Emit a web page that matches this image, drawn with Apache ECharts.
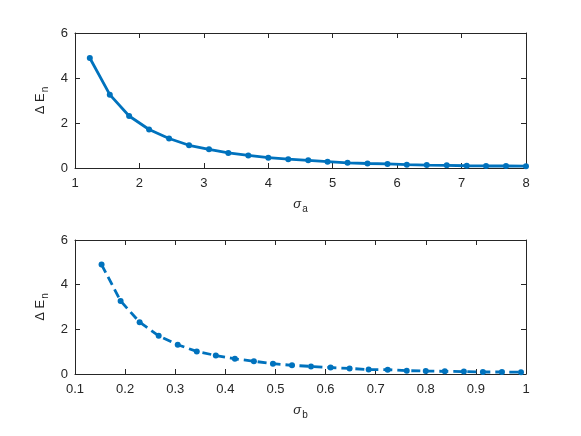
<!DOCTYPE html>
<html>
<head>
<meta charset="utf-8">
<script src="https://cdn.jsdelivr.net/npm/echarts@6/dist/echarts.min.js"></script>
<style>
  html, body { margin: 0; padding: 0; background: #fff; }
  #chart { width: 581px; height: 436px; }
</style>
</head>
<body>
<div id="chart"></div>
<script>
const sigmaA = [1.23, 1.54, 1.84, 2.15, 2.46, 2.77, 3.08, 3.38, 3.69, 4.00, 4.31, 4.62,
  4.92, 5.23, 5.54, 5.85, 6.15, 6.46, 6.77, 7.08, 7.38, 7.69, 8.00];
const sigmaB = [0.153, 0.191, 0.229, 0.267, 0.305, 0.343, 0.381, 0.419, 0.457, 0.495, 0.533, 0.571,
  0.610, 0.648, 0.686, 0.724, 0.762, 0.800, 0.838, 0.876, 0.914, 0.952, 0.990];
const deltaEA = [4.89, 3.26, 2.31, 1.71, 1.31, 1.01, 0.83, 0.67, 0.56, 0.46, 0.39, 0.34,
  0.28, 0.23, 0.20, 0.18, 0.15, 0.13, 0.12, 0.10, 0.09, 0.09, 0.08];
const deltaEB = [4.90, 3.27, 2.32, 1.71, 1.31, 1.01, 0.83, 0.68, 0.57, 0.46, 0.39, 0.34,
  0.29, 0.25, 0.20, 0.19, 0.15, 0.13, 0.12, 0.11, 0.09, 0.09, 0.08];

const ink = '#262626';
const blue = '#0072BD';
const font = 'Liberation Sans, Arial, Helvetica, sans-serif';

const chart = echarts.init(document.getElementById('chart'));

// main axis (labels, inward ticks)
function mainX(grid, min, max, interval, sub, fmt) {
  return {
    type: 'value', gridIndex: grid, position: 'bottom',
    min: min, max: max, interval: interval,
    name: '{s|σ}{b|' + sub + '}', nameLocation: 'middle', nameGap: 27,
    nameTextStyle: {
      rich: {
        s: { fontFamily: font, fontSize: 13, color: ink, fontStyle: 'italic' },
        b: { fontFamily: font, fontSize: 10, color: ink, padding: [9, 0, 0, 1] },
      },
    },
    axisLine: { lineStyle: { color: ink, width: 1 } },
    axisTick: { inside: true, length: 5, lineStyle: { color: ink } },
    axisLabel: { color: ink, fontFamily: font, fontSize: 13, margin: 9, formatter: fmt },
    splitLine: { show: false },
  };
}
function mainY(grid) {
  return {
    type: 'value', gridIndex: grid, position: 'left',
    min: 0, max: 6, interval: 2,
    name: '{d|Δ E}{b|n}', nameLocation: 'middle', nameGap: 16,
    nameTextStyle: {
      rich: {
        d: { fontFamily: font, fontSize: 13, color: ink },
        b: { fontFamily: font, fontSize: 10, color: ink, padding: [9, 0, 0, 1] },
      },
    },
    axisLine: { lineStyle: { color: ink, width: 1 } },
    axisTick: { inside: true, length: 5, lineStyle: { color: ink } },
    axisLabel: { color: ink, fontFamily: font, fontSize: 13, margin: 7 },
    splitLine: { show: false },
  };
}
// box side (ticks only)
function boxX(grid, min, max, interval) {
  return {
    type: 'value', gridIndex: grid, position: 'top',
    min: min, max: max, interval: interval,
    axisLine: { show: true, onZero: false, lineStyle: { color: ink, width: 1 } },
    axisTick: { inside: true, length: 5, lineStyle: { color: ink } },
    axisLabel: { show: false }, splitLine: { show: false },
  };
}
function boxY(grid) {
  return {
    type: 'value', gridIndex: grid, position: 'right',
    min: 0, max: 6, interval: 2,
    axisLine: { show: true, onZero: false, lineStyle: { color: ink, width: 1 } },
    axisTick: { inside: true, length: 5, lineStyle: { color: ink } },
    axisLabel: { show: false }, splitLine: { show: false },
  };
}

const option = {
  backgroundColor: '#fff',
  animation: false,
  grid: [
    { left: 75, top: 33, width: 451, height: 135 },
    { left: 75, top: 240, width: 451, height: 134 },
  ],
  xAxis: [
    mainX(0, 1, 8, 1, 'a'),
    boxX(0, 1, 8, 1),
    mainX(1, 0.1, 1, 0.1, 'b', (v) => (Math.abs(v - 1) < 1e-9 ? '1' : v.toFixed(1))),
    boxX(1, 0.1, 1, 0.1),
  ],
  yAxis: [mainY(0), boxY(0), mainY(1), boxY(1)],
  series: [
    {
      type: 'line', xAxisIndex: 0, yAxisIndex: 0,
      data: sigmaA.map((x, i) => [x, deltaEA[i]]),
      symbol: 'circle', symbolSize: 6, clip: false,
      lineStyle: { color: blue, width: 2.8 },
      itemStyle: { color: blue },
    },
    {
      type: 'line', xAxisIndex: 2, yAxisIndex: 2,
      data: sigmaB.map((x, i) => [x, deltaEB[i]]),
      symbol: 'circle', symbolSize: 6, clip: false,
      lineStyle: { color: blue, width: 2.8, type: [9, 5] },
      itemStyle: { color: blue },
    },
  ],
};
chart.setOption(option);
</script>
</body>
</html>
